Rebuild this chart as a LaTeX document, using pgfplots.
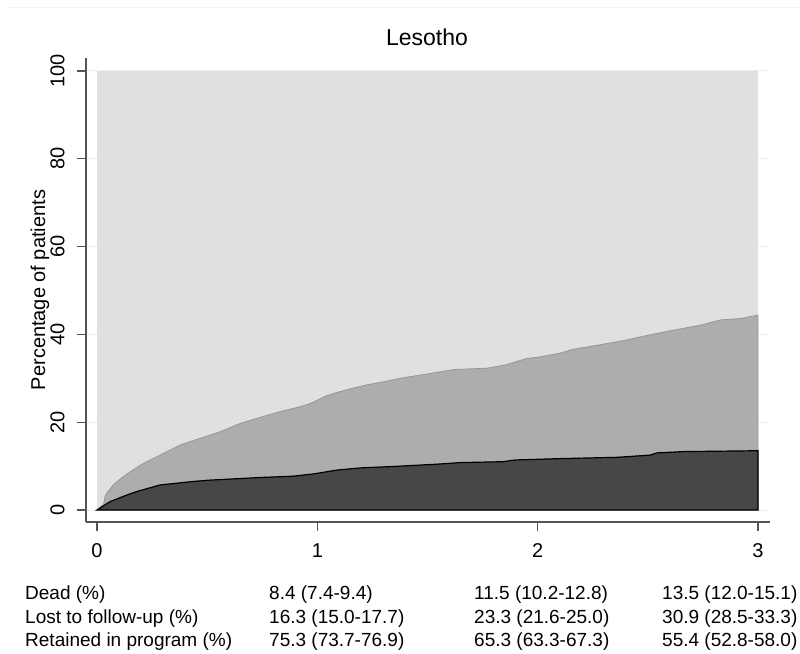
\documentclass[border=0pt]{standalone}
\usepackage{fontspec}
\setmainfont{Liberation Sans}
\usepackage{pgfplots}
\pgfplotsset{compat=1.18}
\definecolor{lightc}{RGB}{224,224,224}
\definecolor{midc}{RGB}{173,173,173}
\definecolor{midedge}{RGB}{150,150,150}
\definecolor{darkc}{RGB}{71,71,71}
\definecolor{gridc}{RGB}{232,240,241}
\definecolor{axc}{RGB}{85,85,85}
\begin{document}
\begin{tikzpicture}[x=1pt,y=1pt]
\path[use as bounding box] (0,0) rectangle (800,653);
\draw[black!5, line width=0.8pt] (8,646) -- (800,646);
\begin{axis}[
  at={(86pt,131pt)}, anchor=south west,
  scale only axis, width=684pt, height=464pt,
  xmin=-0.0499, xmax=3.0545, ymin=-2.733, ymax=102.96,
  axis x line*=bottom, axis y line*=left,
  axis line style={-, draw=axc, line width=1.1pt},
  tick style={draw=axc, line width=1.1pt},
  tick align=outside, major tick length=9pt,
  xtick={0,1,2,3}, ytick={0,20,40,60,80,100},
  ymajorgrids, grid style={draw=gridc, line width=1pt},
  /pgf/number format/assume math mode=true,
  tick label style={font=\fontsize{20}{24}\selectfont},
  xticklabel shift=9pt, yticklabel shift=9pt,
  yticklabel style={rotate=90, anchor=south},
  xticklabel style={anchor=north},
  ylabel={Percentage of patients},
  ylabel style={font=\fontsize{20}{24}\selectfont, at={(axis description cs:-0.0673,0.5)}, anchor=center},
  title={Lesotho},
  title style={font=\fontsize{23}{27}\selectfont, at={(axis description cs:0.4985,1.013)}, anchor=base},
]
\addplot[fill=lightc, draw=none] coordinates {(0,0) (0,100) (3,100) (3,0)} -- cycle;
\addplot[fill=midc, draw=midedge, line width=0.8pt] coordinates {
(0,0) (0.03,1.3) (0.036,3.0) (0.044,3.8) (0.074,5.7) (0.104,7.0) (0.15,8.7) (0.21,10.6)
(0.286,12.5) (0.377,14.8) (0.467,16.3) (0.558,17.8) (0.649,19.7) (0.74,21.1) (0.83,22.4)
(0.92,23.5) (0.96,24.1) (1.0,25.0) (1.04,26.0) (1.09,26.8) (1.15,27.6) (1.224,28.5) (1.3,29.2)
(1.375,30.0) (1.5,31.0) (1.62,32.0) (1.77,32.3) (1.85,33.0) (1.95,34.5) (2.0,34.8)
(2.1,35.7) (2.16,36.6) (2.28,37.6) (2.4,38.7) (2.51,39.9) (2.62,41.0) (2.74,42.1)
(2.83,43.3) (2.92,43.6) (3.0,44.4) (3.0,0)} -- cycle;
\addplot[fill=darkc, draw=black, line width=1.2pt] coordinates {
(0,0) (0.059,1.9) (0.135,3.4) (0.18,4.2) (0.286,5.7) (0.437,6.5) (0.51,6.8) (0.74,7.4)
(0.89,7.7) (0.98,8.2) (1.09,9.1) (1.2,9.6) (1.34,9.9) (1.53,10.4) (1.65,10.8) (1.84,11.0)
(1.9,11.4) (2.1,11.7) (2.36,12.0) (2.51,12.5) (2.54,13.0) (2.66,13.3) (3.0,13.5) (3.0,0)} -- cycle;
\end{axis}
\begin{scope}[every node/.style={anchor=base west, inner sep=0pt, font=\fontsize{19}{23}\selectfont}]
\node at (25,53) {Dead (\%)};
\node at (25,30) {Lost to follow-up (\%)};
\node at (25,7) {Retained in program (\%)};
\node at (269,53) {8.4 (7.4-9.4)};
\node at (269,30) {16.3 (15.0-17.7)};
\node at (269,7) {75.3 (73.7-76.9)};
\node at (474,53) {11.5 (10.2-12.8)};
\node at (474,30) {23.3 (21.6-25.0)};
\node at (474,7) {65.3 (63.3-67.3)};
\node at (662,53) {13.5 (12.0-15.1)};
\node at (662,30) {30.9 (28.5-33.3)};
\node at (662,7) {55.4 (52.8-58.0)};
\end{scope}
\end{tikzpicture}
\end{document}
